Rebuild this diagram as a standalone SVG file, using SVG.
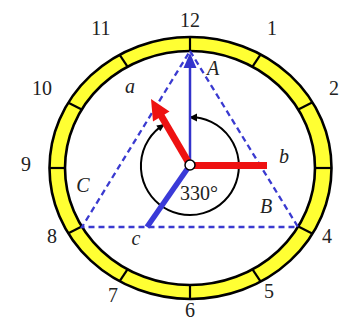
<svg xmlns="http://www.w3.org/2000/svg" width="342" height="322" viewBox="0 0 342 322">
<style>
.num{font-family:"Liberation Serif","Times New Roman",serif;font-size:20px;fill:#222;text-anchor:middle}
.lbl{font-family:"Liberation Serif","Times New Roman",serif;font-size:20px;font-style:italic;fill:#222;text-anchor:middle}
.tick{stroke:#000;stroke-width:2.2}
.dash{fill:none;stroke:#3a3ad0;stroke-width:2.3;stroke-dasharray:6 4}
</style>
<rect width="342" height="322" fill="#fff"/>
<g id="dial">
<ellipse cx="190.5" cy="168" rx="141" ry="131" fill="#ffff33" stroke="#000" stroke-width="2.6"/>
<ellipse cx="190" cy="168" rx="125" ry="117" fill="#fff" stroke="#000" stroke-width="2.6"/>
<g id="ticks">
<line class="tick" x1="190" y1="37" x2="190" y2="51"/>
<line class="tick" x1="260.5" y1="54.6" x2="252.5" y2="66.7"/>
<line class="tick" x1="312.1" y1="102.5" x2="298.3" y2="109.5"/>
<line class="tick" x1="331.5" y1="168" x2="315" y2="168"/>
<line class="tick" x1="312.1" y1="233.5" x2="298.3" y2="226.5"/>
<line class="tick" x1="260.5" y1="281.4" x2="252.5" y2="269.3"/>
<line class="tick" x1="190" y1="299" x2="190" y2="285"/>
<line class="tick" x1="119.5" y1="281.4" x2="127.5" y2="269.3"/>
<line class="tick" x1="67.9" y1="233.5" x2="81.7" y2="226.5"/>
<line class="tick" x1="49.5" y1="168" x2="65" y2="168"/>
<line class="tick" x1="67.9" y1="102.5" x2="81.7" y2="109.5"/>
<line class="tick" x1="119.5" y1="54.6" x2="127.5" y2="66.7"/>
</g>
<g id="hours">
<text class="num" x="190" y="27">12</text>
<text class="num" x="272" y="35">1</text>
<text class="num" x="334" y="95">2</text>
<text class="num" x="327" y="243">4</text>
<text class="num" x="269" y="298">5</text>
<text class="num" x="190" y="317">6</text>
<text class="num" x="113" y="302">7</text>
<text class="num" x="52" y="243">8</text>
<text class="num" x="26" y="171">9</text>
<text class="num" x="42" y="95">10</text>
<text class="num" x="101" y="35">11</text>
</g>
</g>
<g id="connectors">
<polygon id="triangle" class="dash" points="190,51 298,227 82,227"/>
<path id="angle-arc" d="M190,117 A49,49 0 1,1 164,124.4" fill="none" stroke="#000" stroke-width="2"/>
<polygon points="189,117.5 197,113.5 197,121.5" fill="#000"/>
<polygon points="165,124 156.3,125.5 160.3,131.3" fill="#000"/>
<g id="vec-A">
<line x1="190" y1="165" x2="190" y2="64" stroke="#3333cc" stroke-width="2.5"/>
<polygon points="190,53 183.5,68 196.5,68" fill="#3333cc"/>
</g>
<line id="vec-c" x1="190" y1="165" x2="147" y2="227" stroke="#3a3ad8" stroke-width="5.5"/>
<line id="vec-b" x1="190" y1="165.5" x2="267" y2="165.5" stroke="#ee1111" stroke-width="7"/>
<g id="vec-a">
<line x1="190" y1="165" x2="161" y2="115.5" stroke="#ee1111" stroke-width="7"/>
<polygon points="151,99 169.5,111.6 153,121.5" fill="#ee1111"/>
</g>
<circle cx="190" cy="165" r="5" fill="#fff" stroke="#000" stroke-width="1.5"/>
</g>
<g id="labels">
<text class="lbl" x="213" y="75">A</text>
<text class="lbl" x="130" y="93">a</text>
<text class="lbl" x="284" y="163">b</text>
<text class="lbl" x="266" y="213">B</text>
<text class="lbl" x="83" y="192">C</text>
<text class="lbl" x="136" y="245">c</text>
<text class="num" x="199" y="200">330°</text>
</g>
</svg>
